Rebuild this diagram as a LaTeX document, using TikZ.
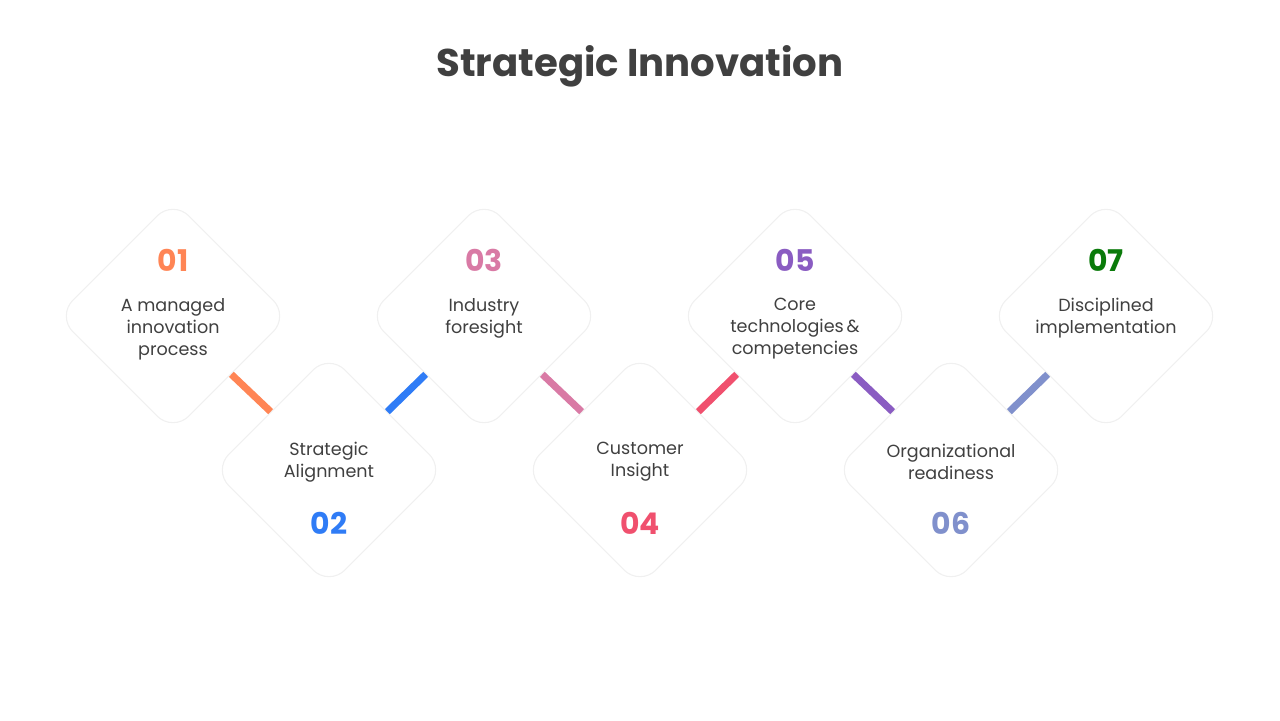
\documentclass[tikz,border=0pt]{standalone}
\usepackage{fontspec}
\setmainfont{Poppins}
\usetikzlibrary{shadows}
\definecolor{cA}{HTML}{FF8555}
\definecolor{cB}{HTML}{2F7CF6}
\definecolor{cC}{HTML}{D97AA5}
\definecolor{cD}{HTML}{F0506E}
\definecolor{cE}{HTML}{8A5CC2}
\definecolor{cF}{HTML}{8090CC}
\definecolor{cG}{HTML}{0A7A0A}
\definecolor{txt}{HTML}{404040}
\tikzstyle{tile} = [rectangle, rotate=45, minimum width=164*0.02cm, minimum height=164*0.02cm, rounded corners=0.45cm, fill=white, draw=black!6, line width=0.6pt, drop shadow={shadow xshift=0pt, shadow yshift=0pt, opacity=0.08, fill=black}]
\tikzstyle{num} = [font=\fontsize{17}{20}\selectfont\bfseries]
\tikzstyle{label} = [font=\fontsize{10}{12.5}\selectfont, text=txt, align=center]
\tikzstyle{link} = [line width=4pt]
\begin{document}
\begin{tikzpicture}[x=0.02cm, y=-0.02cm]
        \useasboundingbox (0,0) rectangle (1280,720);
        \node (title) at (640,66) [font=\fontsize{22}{26}\selectfont\bfseries, text=txt] {Strategic Innovation};
        % top row
        \node (t1) [tile] at (173,316) {};
        \node (t3) [tile] at (484,316) {};
        \node (t5) [tile] at (795,316) {};
        \node (t7) [tile] at (1106,316) {};
        % bottom row
        \node (t2) [tile] at (329,470) {};
        \node (t4) [tile] at (640,470) {};
        \node (t6) [tile] at (951,470) {};
        \node (n1) [num, text=cA] at (173,260) {01};
        \node (n3) [num, text=cC] at (484,260) {03};
        \node (n5) [num, text=cE] at (795,260) {05};
        \node (n7) [num, text=cG] at (1106,260) {07};
        \node (n2) [num, text=cB] at (329,523) {02};
        \node (n4) [num, text=cD] at (640,523) {04};
        \node (n6) [num, text=cF] at (951,523) {06};
        \node (l1) [label, anchor=north] at (173,292) {A managed\\innovation\\process};
        \node (l3) [label, anchor=north] at (484,292) {Industry\\foresight};
        \node (l5) [label, anchor=north] at (795,292) {Core\\technologies\,\&\\competencies};
        \node (l7) [label, anchor=north] at (1106,292) {Disciplined\\implementation};
        \node (l2) [label] at (329,462) {Strategic\\Alignment};
        \node (l4) [label] at (640,462) {Customer\\Insight};
        \node (l6) [label] at (951,462) {Organizational\\readiness};
        \draw [link, cA] (t1.south) -- (t2.north);
        \draw [link, cB] (t2.east) -- (t3.west);
        \draw [link, cC] (t3.south) -- (t4.north);
        \draw [link, cD] (t4.east) -- (t5.west);
        \draw [link, cE] (t5.south) -- (t6.north);
        \draw [link, cF] (t6.east) -- (t7.west);
\end{tikzpicture}
\end{document}
